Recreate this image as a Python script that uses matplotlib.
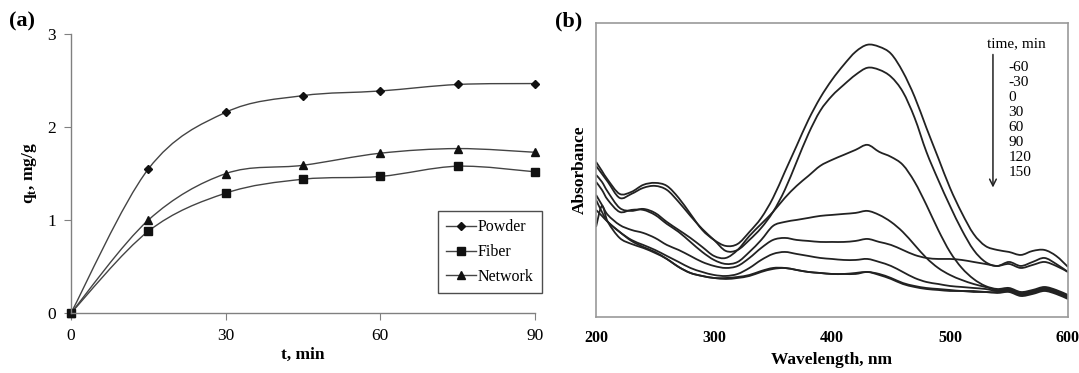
import numpy as np
import matplotlib
matplotlib.use("Agg")
import matplotlib.pyplot as plt
from matplotlib.path import Path
from matplotlib.patches import PathPatch
from matplotlib.lines import Line2D

plt.rcParams['font.family'] = ['Liberation Serif', 'DejaVu Serif']
plt.rcParams['mathtext.fontset'] = 'custom'
plt.rcParams['mathtext.rm'] = 'Liberation Serif'
plt.rcParams['mathtext.bf'] = 'Liberation Serif:bold'

# ---- panel (a): adsorption kinetics ----
t_min = [0, 15, 30, 45, 60, 75, 90]
q_powder = [0, 1.55, 2.16, 2.34, 2.39, 2.46, 2.47]
q_fiber = [0, 0.88, 1.29, 1.44, 1.47, 1.58, 1.52]
q_network = [0, 1.00, 1.50, 1.59, 1.72, 1.77, 1.73]

# ---- panel (b): UV-vis spectra (arbitrary absorbance units) ----
wavelength = [200, 205, 210, 220, 230, 240, 250, 260, 270, 280, 290, 300, 310, 320,
              330, 340, 350, 360, 370, 380, 390, 400, 410, 420, 430, 440, 450, 460,
              470, 480, 490, 500, 510, 520, 530, 540, 550, 560, 570, 580, 590, 600]
abs_m60 = [1.55, 1.46, 1.37, 1.23, 1.25, 1.32, 1.34, 1.31, 1.19, 1.03, 0.87, 0.77, 0.71, 0.73,
           0.85, 0.99, 1.19, 1.45, 1.71, 1.97, 2.19, 2.37, 2.52, 2.65, 2.72, 2.70, 2.63, 2.45,
           2.20, 1.89, 1.59, 1.29, 1.04, 0.83, 0.71, 0.67, 0.65, 0.62, 0.66, 0.67, 0.61, 0.50]
abs_m30 = [1.51, 1.43, 1.35, 1.19, 1.23, 1.29, 1.31, 1.27, 1.15, 1.01, 0.88, 0.77, 0.66, 0.67,
           0.77, 0.89, 1.05, 1.27, 1.55, 1.83, 2.06, 2.21, 2.32, 2.42, 2.49, 2.47, 2.40, 2.25,
           1.99, 1.65, 1.37, 1.11, 0.87, 0.67, 0.55, 0.51, 0.55, 0.51, 0.55, 0.59, 0.53, 0.45]
abs_0 = [1.42, 1.35, 1.25, 1.09, 1.06, 1.08, 1.04, 0.95, 0.87, 0.79, 0.70, 0.61, 0.59, 0.67,
         0.81, 0.93, 1.05, 1.19, 1.31, 1.41, 1.51, 1.57, 1.62, 1.67, 1.72, 1.65, 1.60, 1.52,
         1.35, 1.12, 0.87, 0.65, 0.49, 0.38, 0.31, 0.28, 0.29, 0.25, 0.27, 0.30, 0.27, 0.22]
abs_30 = [1.35, 1.27, 1.17, 1.05, 1.07, 1.07, 1.02, 0.93, 0.85, 0.75, 0.65, 0.57, 0.53, 0.55,
          0.65, 0.77, 0.91, 0.95, 0.97, 0.99, 1.01, 1.02, 1.03, 1.04, 1.06, 1.02, 0.95, 0.85,
          0.72, 0.59, 0.49, 0.42, 0.37, 0.33, 0.30, 0.27, 0.28, 0.24, 0.26, 0.29, 0.26, 0.21]
abs_60 = [1.22, 1.12, 1.02, 0.92, 0.87, 0.84, 0.79, 0.72, 0.67, 0.61, 0.55, 0.51, 0.49, 0.51,
          0.59, 0.69, 0.77, 0.79, 0.77, 0.76, 0.75, 0.75, 0.75, 0.76, 0.78, 0.75, 0.72, 0.67,
          0.62, 0.59, 0.58, 0.58, 0.57, 0.55, 0.53, 0.51, 0.53, 0.49, 0.52, 0.55, 0.51, 0.45]
abs_90 = [1.17, 1.05, 0.95, 0.85, 0.77, 0.72, 0.67, 0.61, 0.55, 0.49, 0.45, 0.42, 0.41, 0.43,
          0.49, 0.57, 0.63, 0.65, 0.63, 0.61, 0.59, 0.58, 0.57, 0.57, 0.58, 0.55, 0.51, 0.45,
          0.39, 0.35, 0.33, 0.31, 0.30, 0.29, 0.28, 0.26, 0.27, 0.23, 0.25, 0.28, 0.25, 0.20]
abs_120 = [1.07, 1.01, 0.95, 0.85, 0.76, 0.70, 0.65, 0.58, 0.50, 0.44, 0.41, 0.39, 0.39, 0.40,
           0.42, 0.46, 0.49, 0.49, 0.47, 0.45, 0.44, 0.43, 0.43, 0.44, 0.45, 0.43, 0.39, 0.34,
           0.31, 0.29, 0.28, 0.27, 0.26, 0.26, 0.25, 0.25, 0.26, 0.22, 0.24, 0.27, 0.24, 0.19]
abs_150 = [0.90, 1.11, 0.95, 0.79, 0.73, 0.69, 0.64, 0.58, 0.50, 0.44, 0.41, 0.39, 0.38, 0.39,
           0.41, 0.45, 0.48, 0.49, 0.47, 0.45, 0.44, 0.43, 0.43, 0.43, 0.45, 0.42, 0.38, 0.33,
           0.30, 0.28, 0.27, 0.26, 0.26, 0.25, 0.25, 0.24, 0.25, 0.21, 0.23, 0.26, 0.23, 0.18]
spectra = [abs_m60, abs_m30, abs_0, abs_30, abs_60, abs_90, abs_120, abs_150]
time_labels = ['-60', '-30', '0', '30', '60', '90', '120', '150']


def smooth_path(x, y):
    """Excel-like smoothed line through the points (cubic Bezier segments)."""
    pts = np.column_stack([x, y]).astype(float)
    n = len(pts)
    verts = [pts[0]]
    codes = [Path.MOVETO]
    for i in range(n - 1):
        p0 = pts[i - 1] if i > 0 else pts[i]
        p1, p2 = pts[i], pts[i + 1]
        p3 = pts[i + 2] if i + 2 < n else pts[i + 1]
        verts += [p1 + (p2 - p0) / 6.0, p2 - (p3 - p1) / 6.0, p2]
        codes += [Path.CURVE4] * 3
    return Path(verts, codes)


fig = plt.figure(figsize=(10.79, 3.73), dpi=100)
ax_a = fig.add_axes([0.0658, 0.1609, 0.4300, 0.7471])
ax_b = fig.add_axes([0.5524, 0.1501, 0.4374, 0.7890])

# panel (a)
line_col = '#444444'
series = [(q_powder, 'D', 4.5, 'Powder'),
          (q_fiber, 's', 6, 'Fiber'),
          (q_network, '^', 5.5, 'Network')]
handles = []
for q, mk, ms, lab in series:
    ax_a.add_patch(PathPatch(smooth_path(t_min, q), fill=False, edgecolor=line_col, lw=1.0))
    ax_a.plot(t_min, q, linestyle='none', marker=mk, markersize=ms, color='#111111', clip_on=False)
    handles.append(Line2D([], [], color=line_col, lw=1.0, marker=mk, markersize=ms,
                          markerfacecolor='#111111', markeredgecolor='#111111', label=lab))

ax_a.set_xlim(0, 90)
ax_a.set_ylim(0, 3)
ax_a.set_xticks([0, 30, 60, 90])
ax_a.set_yticks([0, 1, 2, 3])
for s in ['top', 'right']:
    ax_a.spines[s].set_visible(False)
for s in ['left', 'bottom']:
    ax_a.spines[s].set_color('#808080')
    ax_a.spines[s].set_linewidth(1.0)
ax_a.tick_params(direction='out', length=5, color='#808080', labelsize=12.5, pad=6)
ax_a.set_xlabel('t, min', fontsize=12.5, fontweight='bold', labelpad=2)
ax_a.set_ylabel(r'q$_\mathbf{t}$, mg/g', fontsize=12.5, fontweight='bold', labelpad=6)
leg = ax_a.legend(handles=handles, loc='lower right', bbox_to_anchor=(1.015, 0.072),
                  fontsize=11.5, frameon=True, fancybox=False, handlelength=1.9,
                  handletextpad=0.1, labelspacing=0.55, borderpad=0.5, borderaxespad=0)
leg.get_frame().set_edgecolor('#222222')
leg.get_frame().set_linewidth(1.0)
fig.text(0.008, 0.93, '(a)', fontsize=16, fontweight='bold')

# panel (b)
for spec in spectra:
    ax_b.add_patch(PathPatch(smooth_path(wavelength, spec), fill=False,
                             edgecolor='#222222', lw=1.3))
ax_b.set_xlim(200, 600)
ax_b.set_ylim(0, 2.94)
ax_b.set_xticks([200, 300, 400, 500, 600])
ax_b.set_yticks([])
for s in ax_b.spines.values():
    s.set_color('#999999')
    s.set_linewidth(1.2)
ax_b.tick_params(axis='x', length=0, labelsize=11.5, pad=9)
for lbl in ax_b.get_xticklabels():
    lbl.set_fontweight('bold')
ax_b.set_xlabel('Wavelength, nm', fontsize=12.5, fontweight='bold', labelpad=5)
ax_b.set_ylabel('Absorbance', fontsize=12.5, fontweight='bold', labelpad=6)
fig.text(0.514, 0.93, '(b)', fontsize=16, fontweight='bold')

ax_b.text(0.89, 0.928, 'time, min', transform=ax_b.transAxes, ha='center', va='center',
          fontsize=11)
ax_b.annotate('', xy=(0.841, 0.440), xytext=(0.841, 0.892), xycoords='axes fraction',
              arrowprops=dict(arrowstyle='->', color='#222222', lw=1.1,
                              shrinkA=0, shrinkB=0, mutation_scale=12))
for i, lab in enumerate(time_labels):
    ax_b.text(0.874, 0.849 - i * 0.0513, lab, transform=ax_b.transAxes, ha='left',
              va='center', fontsize=11)

fig.savefig('out.png', dpi=100)
